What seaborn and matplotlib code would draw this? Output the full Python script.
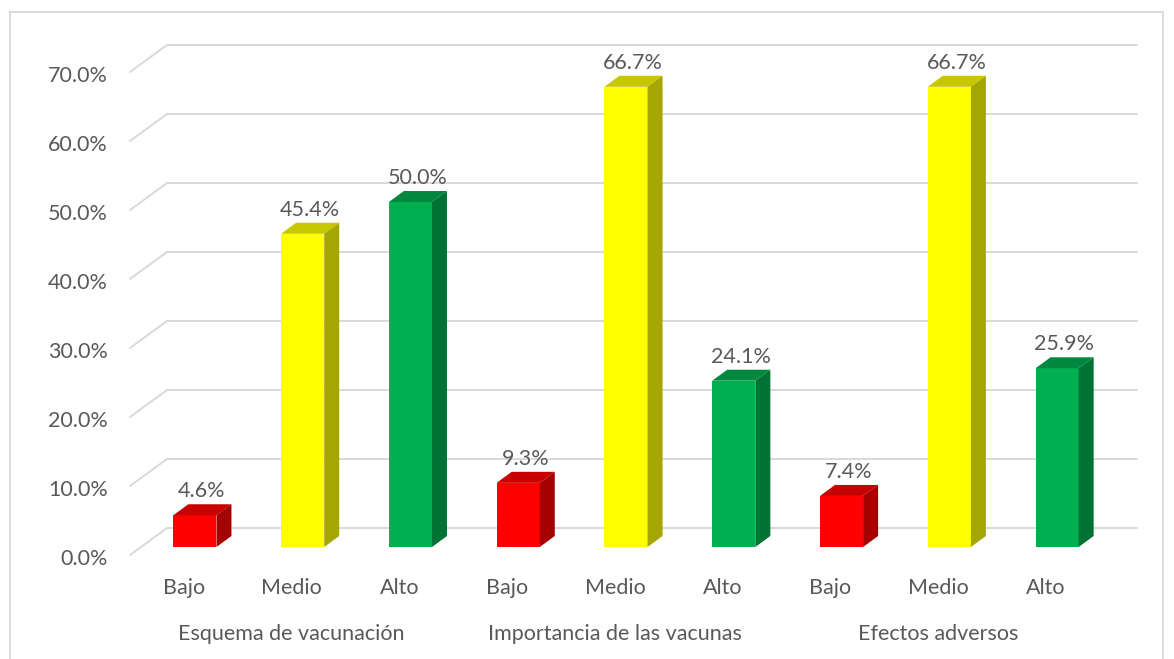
import pandas as pd
import seaborn as sns
import matplotlib.pyplot as plt
import matplotlib.transforms as mtransforms
from matplotlib.patches import Polygon, Rectangle
from matplotlib.lines import Line2D

# data
groups = ["Esquema de vacunación", "Importancia de las vacunas", "Efectos adversos"]
levels = ["Bajo", "Medio", "Alto"]
esquema = [4.6, 45.4, 50.0]
importancia = [9.3, 66.7, 24.1]
efectos = [7.4, 66.7, 25.9]
yticks = [0, 10, 20, 30, 40, 50, 60, 70]
colors = {"Bajo": "#FF0000", "Medio": "#FFFF00", "Alto": "#00B050"}

rows = []
for g, vals in zip(groups, [esquema, importancia, efectos]):
    for lv, v in zip(levels, vals):
        rows.append({"key": g + "|" + lv, "grupo": g, "nivel": lv, "valor": v})
df = pd.DataFrame(rows)

sns.set_style("white")
plt.rcParams['font.family'] = ['Lato', 'DejaVu Sans']
txt = "#595959"
grid_c = "#D9D9D9"
fs = 15.5

fig = plt.figure(figsize=(11.74, 6.59), dpi=100)
ax = fig.add_axes([141 / 1174, 112 / 659, 970 / 1174, 483 / 659])
sns.barplot(data=df, x="key", y="valor", hue="nivel", palette=colors,
            dodge=False, width=0.4, saturation=1, legend=False, ax=ax, zorder=3,
            linewidth=0, edgecolor="none")
ax.set_xlim(-0.5, len(df) - 0.5)
ax.set_ylim(0, 70)
ax.axis("off")

def shift(dx, dy):
    # pixel offset (dpi 100)
    return ax.transData + mtransforms.ScaledTranslation(dx / 100, dy / 100, fig.dpi_scale_trans)

back = shift(26, 19)
front = shift(-11, -8)
x0, x1 = ax.get_xlim()

# back wall gridlines plus the diagonal to the front plane
for t in yticks:
    ax.add_line(Line2D([x0, x1], [t, t], transform=back, color=grid_c, lw=1.4, zorder=0, clip_on=False))
    p_front = front.transform((x0, t))
    p_back = back.transform((x0, t))
    ax.add_line(Line2D([p_front[0], p_back[0]], [p_front[1], p_back[1]], transform=None,
                       color=grid_c, lw=1.4, zorder=0, clip_on=False))
    ax.text(x0, t, f"{t:.1f}%", transform=shift(-33, -12), ha="right", va="center",
            fontsize=fs, color=txt)

# 3d-ish top and side faces for each bar
ddx, ddy = 15, 11
for p in ax.patches:
    c = p.get_facecolor()
    (X0, Y0), (X1, Y1) = ax.transData.transform([(p.get_x(), 0), (p.get_x() + p.get_width(), p.get_height())])
    top_c = tuple(v * 0.78 for v in c[:3])
    side_c = tuple(v * 0.65 for v in c[:3])
    top = Polygon([(X0, Y1), (X1, Y1), (X1 + ddx, Y1 + ddy), (X0 + ddx, Y1 + ddy)],
                  closed=True, transform=None, facecolor=top_c, edgecolor="none", zorder=4, clip_on=False)
    side = Polygon([(X1, Y0), (X1 + ddx, Y0 + ddy), (X1 + ddx, Y1 + ddy), (X1, Y1)],
                   closed=True, transform=None, facecolor=side_c, edgecolor="none", zorder=4, clip_on=False)
    fig.add_artist(top)
    fig.add_artist(side)
    ax.text(p.get_x() + p.get_width() / 2, p.get_height(), f"{p.get_height():.1f}%",
            transform=shift(7, 14), ha="center", va="bottom", fontsize=fs, color=txt)

# category labels
for i, r in df.iterrows():
    ax.text(i, 0, r["nivel"], transform=shift(-11, -41), ha="center", va="center",
            fontsize=fs, color=txt)
for j, g in enumerate(groups):
    ax.text(j * 3 + 1, 0, g, transform=shift(-11, -87), ha="center", va="center",
            fontsize=fs, color=txt)

# chart border
fig.add_artist(Rectangle((10 / 1174, -0.02), 1153 / 1174, 1 - 12 / 659 + 0.02,
                         transform=fig.transFigure, fill=False, edgecolor=grid_c, lw=1.3))

fig.savefig("out.png", dpi=100)
